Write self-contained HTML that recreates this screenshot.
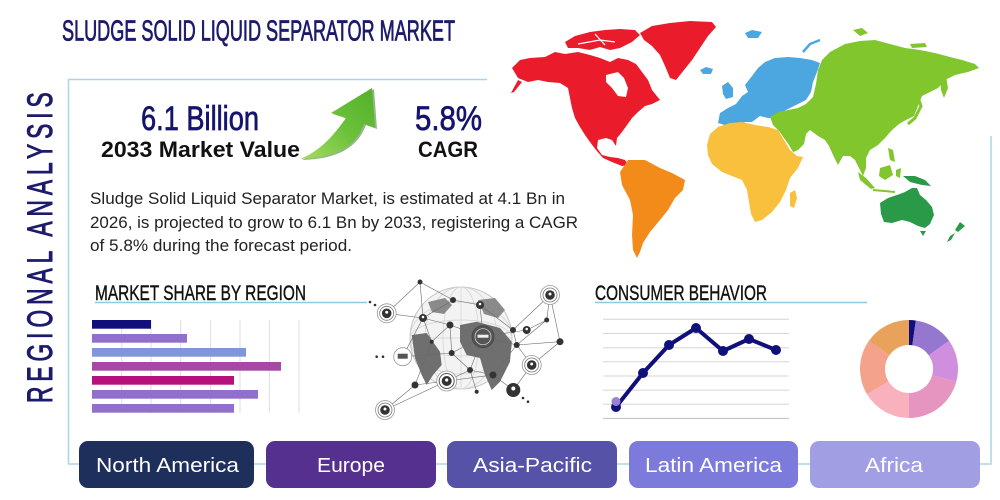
<!DOCTYPE html>
<html>
<head>
<meta charset="utf-8">
<style>
html,body{margin:0;padding:0;background:#fff;}
svg{display:block;}
text{font-family:"Liberation Sans",sans-serif;}
</style>
</head>
<body>
<svg width="1000" height="500" viewBox="0 0 1000 500" xmlns="http://www.w3.org/2000/svg">
<defs>
<linearGradient id="ag" x1="0" y1="1" x2="1" y2="0">
<stop offset="0" stop-color="#a6dd62"/>
<stop offset="0.5" stop-color="#6cc13a"/>
<stop offset="1" stop-color="#52b02a"/>
</linearGradient>
</defs>
<rect width="1000" height="500" fill="#fff"/>

<!-- frame -->
<g stroke="#a9d6e6" stroke-width="1.5" fill="none">
<path d="M487,79.5 L68.5,79.5 L68.5,464 L991,464 L991,136"/>
</g>

<!-- title -->
<text x="62" y="40.5" font-size="29" fill="#1c1b6c" stroke="#1c1b6c" stroke-width="0.8" textLength="393" lengthAdjust="spacingAndGlyphs">SLUDGE SOLID LIQUID SEPARATOR MARKET</text>

<!-- vertical text -->
<text transform="translate(52,403) rotate(-90) scale(0.65,1)" font-size="35" fill="#1c1b6c" stroke="#1c1b6c" stroke-width="1" textLength="478" lengthAdjust="spacing">REGIONAL ANALYSIS</text>

<!-- stats -->
<text x="141" y="130" font-size="34" fill="#15146e" stroke="#15146e" stroke-width="0.7" textLength="118" lengthAdjust="spacingAndGlyphs">6.1 Billion</text>
<text x="101" y="157" font-size="22" font-weight="bold" fill="#111" textLength="199" lengthAdjust="spacingAndGlyphs">2033 Market Value</text>
<text x="415" y="130" font-size="34" fill="#15146e" stroke="#15146e" stroke-width="0.7" textLength="67" lengthAdjust="spacingAndGlyphs">5.8%</text>
<text x="418" y="157" font-size="22" font-weight="bold" fill="#111" textLength="60" lengthAdjust="spacingAndGlyphs">CAGR</text>

<!-- arrow -->
<path d="M302,160 C320,153 334,139 348,119 L333,114 L374,89 L377,129 L366,125 C358,146 340,159 302,160 Z" fill="#3d7a27" opacity="0.55"/>
<path d="M300,159 C318,152 332,138 346,118 L331,113 L372,88 L375,128 L364,124 C356,145 338,158 300,159 Z" fill="url(#ag)"/>

<!-- paragraph -->
<text x="90" y="204" font-size="16.5" fill="#222" textLength="475" lengthAdjust="spacingAndGlyphs">Sludge Solid Liquid Separator Market, is estimated at 4.1 Bn in</text>
<text x="90" y="228" font-size="16.5" fill="#222" textLength="488" lengthAdjust="spacingAndGlyphs">2026, is projected to grow to 6.1 Bn by 2033, registering a CAGR</text>
<text x="90" y="251" font-size="16.5" fill="#222" textLength="262" lengthAdjust="spacingAndGlyphs">of 5.8% during the forecast period.</text>

<!-- world map -->
<g>
<path fill="#ea1c2c" d="M512,68 L520,60 L530,58 L545,57 L555,52 L565,54 L578,52 L590,55 L600,58 L610,62 L618,58 L628,60 L636,64 L642,72 L648,80 L652,90 L660,100 L652,104 L645,106 L638,112 L632,118 L627,125 L622,132 L617,138 L616,146 L612,140 L606,138 L598,140 L597,148 L602,155 L610,157 L618,158 L625,160 L628,165 L622,166 L612,162 L603,158 L596,150 L590,142 L585,135 L580,127 L575,118 L572,108 L570,98 L568,88 L560,83 L548,82 L538,80 L528,82 L518,78 Z"/>
<path fill="#ea1c2c" d="M518,80 L522,82 L514,92 L511,93 Z"/>
<path fill="#ea1c2c" d="M565,42 L575,36 L590,32 L605,30 L620,29 L635,30 L640,35 L632,42 L620,48 L610,50 L600,47 L590,50 L578,48 L568,48 Z"/>
<g stroke="#fff" stroke-width="1.2" fill="none"><path d="M578,44 L600,40 L615,42"/><path d="M595,34 L605,45"/><path d="M560,52 L600,50"/></g>
<path fill="#fff" d="M606,75 L618,72 L624,78 L628,88 L626,97 L618,96 L612,88 L606,82 Z"/>
<path fill="#ea1c2c" d="M640,33 L652,26 L670,23 L690,21 L712,22 L716,27 L708,36 L700,48 L692,60 L684,70 L676,80 L670,78 L665,66 L660,55 L652,46 L644,40 Z"/>
<path fill="#f28b1a" d="M628,160 L645,160 L660,168 L672,173 L685,180 L683,190 L675,198 L668,210 L660,220 L650,232 L643,243 L640,252 L637,258 L633,250 L632,235 L633,215 L630,200 L622,185 L620,172 Z"/>
<path fill="#4ca7e0" d="M718,123 L720,113 L728,108 L736,104 L742,96 L748,92 L745,85 L752,76 L758,68 L765,62 L775,58 L788,57 L800,58 L812,60 L820,63 L817,72 L813,82 L811,92 L806,100 L798,104 L790,108 L782,112 L776,118 L768,118 L760,116 L752,122 L745,122 L738,125 L728,126 Z"/>
<path fill="#4ca7e0" d="M722,86 L728,82 L733,88 L733,97 L726,99 L723,94 Z"/>
<path fill="#4ca7e0" d="M700,70 L706,67 L713,69 L711,74 L703,74 Z"/>
<path fill="#4ca7e0" d="M745,33 L752,30 L762,32 L758,38 L748,38 Z"/>
<path fill="none" stroke="#4ca7e0" stroke-width="2.5" d="M803,52 L810,44 L820,40"/>
<path fill="#f8c03c" d="M710,134 L718,127 L730,123 L742,122 L755,125 L768,127 L778,130 L784,140 L790,150 L797,156 L803,157 L798,168 L790,178 L786,190 L780,202 L772,212 L762,220 L755,222 L751,214 L749,202 L747,190 L742,180 L732,176 L722,172 L712,164 L708,155 L707,145 Z"/>
<path fill="#f8c03c" d="M790,193 L795,190 L797,198 L794,208 L790,206 Z"/>
<path fill="#80c62c" d="M813,97 L816,84 L818,70 L822,60 L830,52 L845,44 L860,41 L875,40 L890,44 L905,48 L920,50 L935,53 L950,57 L962,60 L975,64 L979,68 L968,72 L955,75 L945,80 L938,88 L930,92 L922,96 L918,106 L914,116 L906,120 L899,124 L892,130 L885,138 L878,145 L870,150 L866,158 L866,168 L863,176 L859,168 L855,160 L850,156 L843,156 L838,165 L833,155 L829,146 L825,140 L818,136 L810,130 L806,134 L804,144 L798,150 L793,152 L789,145 L784,138 L779,131 L773,125 L770,117 L778,112 L788,110 L798,108 L806,104 Z"/>
<path fill="#80c62c" d="M940,78 L946,76 L948,88 L944,98 L941,90 Z"/>
<path fill="none" stroke="#80c62c" stroke-width="3" d="M917,95 L921,106 L915,118 L908,124"/>
<path fill="#80c62c" d="M858,172 L866,178 L875,188 L871,189 L860,180 Z"/>
<path fill="#80c62c" d="M880,168 L890,165 L893,175 L885,180 L879,176 Z"/>
<path fill="#80c62c" d="M896,170 L901,168 L900,178 L896,176 Z"/>
<path fill="none" stroke="#80c62c" stroke-width="2" d="M873,190 L895,192"/>
<path fill="#80c62c" d="M888,148 L893,150 L895,162 L890,160 Z"/>
<path fill="#80c62c" d="M853,30 L862,28 L868,33 L860,36 Z"/>
<path fill="#80c62c" d="M910,44 L925,43 L927,47 L912,48 Z"/>
<path fill="#2a9a48" d="M880,203 L888,198 L897,195 L905,192 L912,188 L917,188 L920,195 L926,200 L932,207 L934,215 L930,224 L925,228 L918,226 L910,222 L902,220 L892,223 L884,222 L881,214 Z"/>
<path fill="#2a9a48" d="M920,231 L926,231 L923,236 Z"/>
<path fill="#2a9a48" d="M903,176 L915,176 L925,180 L931,186 L922,185 L910,182 Z"/>
<path fill="#2a9a48" d="M960,222 L965,226 L958,232 L955,230 Z"/>
<path fill="#2a9a48" d="M955,233 L951,240 L947,242 L950,236 Z"/>
</g>

<!-- section headers -->
<text x="95" y="300" font-size="21" fill="#111" stroke="#111" stroke-width="0.4" textLength="211" lengthAdjust="spacingAndGlyphs">MARKET SHARE BY REGION</text>
<line x1="95" y1="302.5" x2="367" y2="302.5" stroke="#8ccade" stroke-width="1.5"/>
<circle cx="370" cy="302" r="1.3" fill="#333"/>
<circle cx="375" cy="305" r="1.3" fill="#333"/>
<text x="595" y="300" font-size="21" fill="#111" stroke="#111" stroke-width="0.4" textLength="172" lengthAdjust="spacingAndGlyphs">CONSUMER BEHAVIOR</text>
<line x1="595" y1="302.5" x2="867" y2="302.5" stroke="#8ccade" stroke-width="1.5"/>

<!-- bar chart -->
<g stroke="#dedede" stroke-width="1">
<line x1="121.7" y1="320" x2="121.7" y2="413"/>
<line x1="151" y1="320" x2="151" y2="413"/>
<line x1="180.7" y1="320" x2="180.7" y2="413"/>
<line x1="210.7" y1="320" x2="210.7" y2="413"/>
<line x1="240" y1="320" x2="240" y2="413"/>
<line x1="269.3" y1="320" x2="269.3" y2="413"/>
<line x1="299" y1="320" x2="299" y2="413"/>
</g>
<rect x="92" y="320" width="59" height="8.7" fill="#10107a"/>
<rect x="92" y="334" width="95" height="8.7" fill="#9070cc"/>
<rect x="92" y="348" width="154" height="8.7" fill="#7f95de"/>
<rect x="92" y="362" width="189" height="8.7" fill="#a848a6"/>
<rect x="92" y="376" width="142" height="8.7" fill="#b8107a"/>
<rect x="92" y="390" width="166" height="8.7" fill="#9070cc"/>
<rect x="92" y="404" width="142" height="8.7" fill="#9070cc"/>

<!-- globe -->
<g>
<circle cx="461" cy="338" r="51" fill="#f3f3f3" stroke="#c4c4c4" stroke-width="1"/>
<g fill="none" stroke="#d2d2d2" stroke-width="0.7">
<ellipse cx="461" cy="338" rx="51" ry="18"/>
<ellipse cx="461" cy="338" rx="51" ry="36"/>
<ellipse cx="461" cy="338" rx="18" ry="51"/>
<ellipse cx="461" cy="338" rx="36" ry="51"/>
<line x1="410" y1="338" x2="512" y2="338"/>
<line x1="461" y1="287" x2="461" y2="389"/>
</g>
<path fill="#6f6f6f" d="M411.7,335 L426.7,333 L440,351.7 L441.7,365 L433,375 L426.7,385 L421.7,375 L415,358 Z"/>
<path fill="#6f6f6f" d="M460,325 L476.7,321.7 L500,328 L511.7,341.7 L510,361.7 L500,381.7 L491.7,390 L485,375 L480,358 L466.7,355 L460,341.7 Z"/>
<path fill="#8a8a8a" d="M428,302 L445,298 L452,305 L444,314 L432,312 Z"/>
<path fill="#8a8a8a" d="M478,300 L495,298 L505,310 L498,318 L484,314 Z"/>
<g stroke="#6a6a6a" stroke-width="0.6" fill="none">
<path d="M386.7,313.3 L420,282 L453,300 L480,305 L513,330 L550,295 L560,341.7 L531.7,365 L513.3,390"/>
<path d="M386.7,313.3 L423,318 L450,325 L483,336.7 L526.7,330 L546.7,320 L550,295"/>
<path d="M402.7,356.7 L423,318 L453,300"/>
<path d="M402.7,356.7 L451.7,353 L483,336.7 L470,370 L446.7,381 L415,385 L385,410"/>
<path d="M385,410 L446.7,381 L493,375 L513.3,390"/>
<path d="M431.7,341.7 L450,325 L451.7,353 L470,370"/>
<path d="M480,305 L483,336.7 L516.7,345 L531.7,365"/>
<path d="M420,282 L423,318 L431.7,341.7 L415,385"/>
<path d="M493,375 L516.7,345 L560,341.7"/>
<path d="M476.7,391.7 L470,370 L493,375"/>
<path d="M513,330 L516.7,345 L546.7,320"/>
</g>
<g>
<g transform="translate(386.7,313.3)"><circle r="9.5" fill="#fff" stroke="#999" stroke-width="0.8"/><circle r="7" fill="none" stroke="#777" stroke-width="0.8"/><circle r="4.8" fill="#333"/></g>
<g transform="translate(550,295)"><circle r="9.5" fill="#fff" stroke="#999" stroke-width="0.8"/><circle r="7" fill="none" stroke="#777" stroke-width="0.8"/><circle r="4.8" fill="#333"/></g>
<g transform="translate(385,410)"><circle r="9.5" fill="#fff" stroke="#999" stroke-width="0.8"/><circle r="7" fill="none" stroke="#777" stroke-width="0.8"/><circle r="4.8" fill="#333"/></g>
<g transform="translate(446.7,381)"><circle r="10" fill="#fff" stroke="#999" stroke-width="0.8"/><circle r="7.5" fill="none" stroke="#555" stroke-width="1"/><circle r="5" fill="#333"/></g>
<g transform="translate(531.7,365)"><circle r="9.5" fill="#fff" stroke="#999" stroke-width="0.8"/><circle r="7" fill="none" stroke="#777" stroke-width="0.8"/><circle r="4.8" fill="#333"/></g>
<g transform="translate(402.7,356.7)"><circle r="9" fill="#fff" stroke="#999" stroke-width="0.8"/><rect x="-5" y="-3" width="10" height="5" fill="#555"/></g>
<g transform="translate(483,336.7)"><circle r="11" fill="#555" stroke="#444" stroke-width="0.8"/><circle r="8" fill="none" stroke="#ddd" stroke-width="0.7"/><rect x="-5.5" y="-2" width="11" height="3" fill="#eee"/></g>
</g>
<g fill="#333">
<circle cx="423" cy="318" r="4"/>
<circle cx="450" cy="325" r="3.5"/>
<circle cx="480" cy="305" r="4"/>
<circle cx="513" cy="330" r="3"/>
<circle cx="526.7" cy="330" r="4"/>
<circle cx="560" cy="341.7" r="3.5"/>
<circle cx="546.7" cy="320" r="2.5"/>
<circle cx="513.3" cy="390" r="7"/>
<circle cx="415" cy="385" r="3.5"/>
<circle cx="470" cy="370" r="3"/>
<circle cx="493" cy="375" r="3.5"/>
<circle cx="453" cy="300" r="3"/>
<circle cx="420" cy="282" r="2.5"/>
<circle cx="451.7" cy="353" r="3"/>
<circle cx="516.7" cy="345" r="3"/>
<circle cx="476.7" cy="391.7" r="2"/>
<circle cx="431.7" cy="341.7" r="2"/>
<circle cx="376.7" cy="356.7" r="1.3"/>
<circle cx="383" cy="356.7" r="1.3"/>
<circle cx="523" cy="398" r="1.3"/>
<circle cx="528" cy="401.7" r="1.3"/>
</g>
<g fill="#fff">
<circle cx="423" cy="317" r="1.3"/><circle cx="480" cy="304" r="1.3"/><circle cx="526.7" cy="329" r="1.3"/><circle cx="513.3" cy="388.5" r="2"/>
<circle cx="386.7" cy="312.3" r="1.5"/><circle cx="550" cy="294" r="1.5"/><circle cx="385" cy="409" r="1.5"/><circle cx="446.7" cy="380" r="1.6"/><circle cx="531.7" cy="364" r="1.5"/>
</g>
</g>

<!-- line chart -->
<g stroke="#d6d6d6" stroke-width="1">
<line x1="603" y1="319.3" x2="789" y2="319.3"/>
<line x1="603" y1="333.5" x2="789" y2="333.5"/>
<line x1="603" y1="347.7" x2="789" y2="347.7"/>
<line x1="603" y1="361.8" x2="789" y2="361.8"/>
<line x1="603" y1="376" x2="789" y2="376"/>
<line x1="603" y1="390.1" x2="789" y2="390.1"/>
<line x1="603" y1="404.3" x2="789" y2="404.3"/>
<line x1="603" y1="418.4" x2="789" y2="418.4" stroke="#bdbdbd"/>
</g>
<polyline points="616,407 643,373 669,345 696,328 723,351 749,339 776,350" fill="none" stroke="#10107a" stroke-width="4" stroke-linejoin="round"/>
<g fill="#10107a">
<circle cx="616" cy="407" r="5"/><circle cx="643" cy="373" r="5"/><circle cx="669" cy="345" r="5"/><circle cx="696" cy="328" r="5"/><circle cx="723" cy="351" r="5"/><circle cx="749" cy="339" r="5"/><circle cx="776" cy="350" r="5"/>
</g>
<circle cx="616" cy="401.5" r="4.5" fill="#9a80d0"/>

<!-- donut -->
<g>
<path fill="#10107a" d="M909,320 A49,49 0 0 1 915.82,320.48 L912.34,345.23 A24,24 0 0 0 909,345 Z"/>
<path fill="#9577cf" d="M915.82,320.48 A49,49 0 0 1 949.14,340.89 L928.66,355.23 A24,24 0 0 0 912.34,345.23 Z"/>
<path fill="#d08ede" d="M949.14,340.89 A49,49 0 0 1 956.33,381.68 L932.18,375.21 A24,24 0 0 0 928.66,355.23 Z"/>
<path fill="#e695c0" d="M956.33,381.68 A49,49 0 0 1 909,418 L909,393 A24,24 0 0 0 932.18,375.21 Z"/>
<path fill="#f8b1bd" d="M909,418 A49,49 0 0 1 867,394.24 L888.43,381.36 A24,24 0 0 0 909,393 Z"/>
<path fill="#f4a28c" d="M867,394.24 A49,49 0 0 1 868.86,340.89 L889.34,355.23 A24,24 0 0 0 888.43,381.36 Z"/>
<path fill="#e9a25b" d="M868.86,340.89 A49,49 0 0 1 909,320 L909,345 A24,24 0 0 0 889.34,355.23 Z"/>
</g>

<!-- buttons -->
<g>
<rect x="79" y="441" width="175" height="47" rx="9" fill="#1e2f5c"/>
<rect x="266" y="441" width="170" height="47" rx="9" fill="#55308e"/>
<rect x="447" y="441" width="170" height="47" rx="9" fill="#5552a8"/>
<rect x="629" y="441" width="169" height="47" rx="9" fill="#7c7bdc"/>
<rect x="810" y="441" width="170" height="47" rx="9" fill="#a19ee3"/>
</g>
<g fill="#fff" font-size="20">
<text x="96" y="472" textLength="143" lengthAdjust="spacingAndGlyphs">North America</text>
<text x="317" y="472" textLength="68" lengthAdjust="spacingAndGlyphs">Europe</text>
<text x="473" y="472" textLength="119" lengthAdjust="spacingAndGlyphs">Asia-Pacific</text>
<text x="645" y="472" textLength="137" lengthAdjust="spacingAndGlyphs">Latin America</text>
<text x="865" y="472" textLength="58" lengthAdjust="spacingAndGlyphs">Africa</text>
</g>
</svg>
</body>
</html>
